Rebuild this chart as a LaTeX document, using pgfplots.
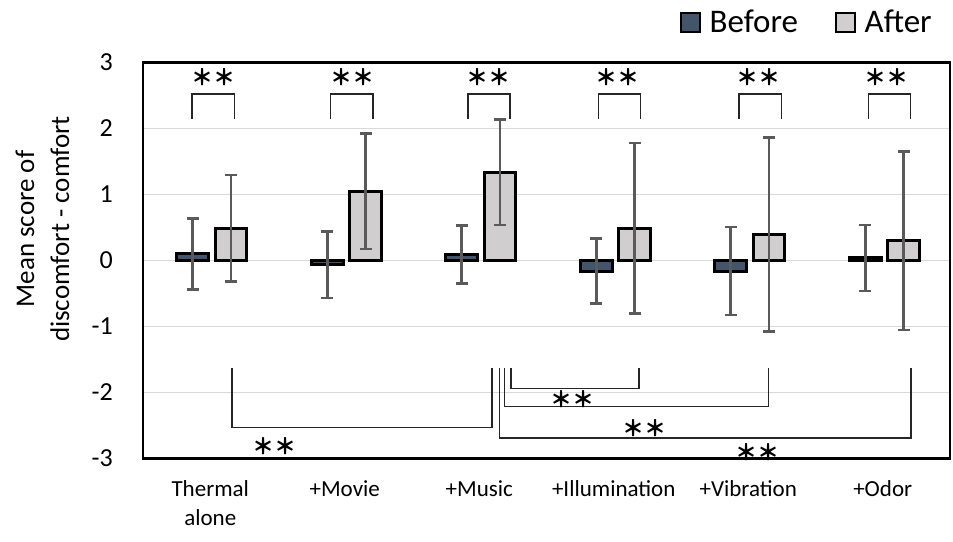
\documentclass[border=0pt]{standalone}
\usepackage{pgfplots}
\pgfplotsset{compat=1.18}
\usepackage{fontspec}
\setmainfont{Carlito}
\newfontfamily\cjk{Noto Sans CJK JP}
\definecolor{beforec}{HTML}{44546A}
\definecolor{afterc}{HTML}{D0CECE}
\definecolor{errc}{HTML}{5A5A5A}
\definecolor{gridc}{HTML}{D9D9D9}
\newcommand{\stars}{{\cjk\bfseries\fontsize{22}{22}\selectfont ＊＊}}
\pgfplotsset{boxlegend/.style={legend image code/.code={\draw[##1, line width=2.2pt] (0pt,-10pt) rectangle (19pt,9pt); \path (25pt,0pt);}}}
\begin{document}
\begin{tikzpicture}
\begin{axis}[
 scale only axis, width=807pt, height=396pt,
 xmin=-0.5, xmax=5.5, ymin=-3, ymax=3,
 xtick={0,1,2,3,4,5},
 xticklabels={{Thermal\\alone},{+Movie},{+Music},{+Illumination},{+Vibration},{+Odor}},
 ytick={-3,-2,-1,0,1,2,3},
 major tick length=0pt,
 ymajorgrids, major grid style={gridc, line width=1.5pt},
 axis line style={black, line width=2.4pt},
 clip=false,
 /pgf/number format/assume math mode=true,
 yticklabel style={font=\fontsize{26}{30}\selectfont, anchor=east, inner sep=0pt, xshift=-30pt},
 xticklabel style={font=\fontsize{23}{29}\selectfont, anchor=north, inner sep=0pt, yshift=-22pt, align=center},
 legend columns=2,
 legend style={at={(axis description cs:0.98,1.102)}, anchor=east, draw=none, fill=none, inner sep=0pt,
   font=\fontsize{33}{38}\selectfont, /tikz/every even column/.append style={column sep=35pt}},
]
\addplot[ybar, bar width=0.235, bar shift=0, fill=beforec, draw=black, line width=3pt,
  boxlegend,
  error bars/.cd, y dir=both, y explicit,
  error bar style={errc, line width=2.6pt},
  error mark options={errc, line width=2.6pt, mark size=6pt, rotate=90}]
 coordinates {
 (-0.13,0.10) +- (0,0.54)
 (0.87,-0.065) +- (0,0.505)
 (1.87,0.09) +- (0,0.44)
 (2.87,-0.16) +- (0,0.49)
 (3.87,-0.16) +- (0,0.665)
 (4.87,0.04) +- (0,0.50)
 };
\addlegendentry{Before}
\addplot[ybar, bar width=0.235, bar shift=0, fill=afterc, draw=black, line width=3pt,
  boxlegend,
  error bars/.cd, y dir=both, y explicit,
  error bar style={errc, line width=2.6pt},
  error mark options={errc, line width=2.6pt, mark size=6pt, rotate=90}]
 coordinates {
 (0.155,0.49) +- (0,0.805)
 (1.155,1.05) +- (0,0.875)
 (2.155,1.34) +- (0,0.80)
 (3.155,0.49) +- (0,1.29)
 (4.155,0.39) +- (0,1.47)
 (5.155,0.30) +- (0,1.35)
 };
\addlegendentry{After}
% top brackets
\draw[black!85, line width=1.4pt] (axis cs:-0.135,2.15) -- (axis cs:-0.135,2.52) -- (axis cs:0.18,2.52) -- (axis cs:0.18,2.15);
\draw[black!85, line width=1.4pt] (axis cs:0.895,2.15) -- (axis cs:0.895,2.52) -- (axis cs:1.21,2.52) -- (axis cs:1.21,2.15);
\draw[black!85, line width=1.4pt] (axis cs:1.915,2.15) -- (axis cs:1.915,2.52) -- (axis cs:2.228,2.52) -- (axis cs:2.228,2.15);
\draw[black!85, line width=1.4pt] (axis cs:2.885,2.15) -- (axis cs:2.885,2.52) -- (axis cs:3.2,2.52) -- (axis cs:3.2,2.15);
\draw[black!85, line width=1.4pt] (axis cs:3.93,2.15) -- (axis cs:3.93,2.52) -- (axis cs:4.245,2.52) -- (axis cs:4.245,2.15);
\draw[black!85, line width=1.4pt] (axis cs:4.895,2.15) -- (axis cs:4.895,2.52) -- (axis cs:5.205,2.52) -- (axis cs:5.205,2.15);
\node at (axis cs:0.022,2.78) {\stars};
\node at (axis cs:1.055,2.78) {\stars};
\node at (axis cs:2.07,2.78) {\stars};
\node at (axis cs:3.03,2.78) {\stars};
\node at (axis cs:4.075,2.78) {\stars};
\node at (axis cs:5.03,2.78) {\stars};
% bottom brackets
\draw[black!85, line width=1.4pt] (axis cs:0.162,-1.63) -- (axis cs:0.162,-2.53) -- (axis cs:2.095,-2.53) -- (axis cs:2.095,-1.63);
\draw[black!85, line width=1.4pt] (axis cs:2.236,-1.63) -- (axis cs:2.236,-1.94) -- (axis cs:3.188,-1.94) -- (axis cs:3.188,-1.63);
\draw[black!85, line width=1.4pt] (axis cs:2.186,-1.63) -- (axis cs:2.186,-2.21) -- (axis cs:4.151,-2.21) -- (axis cs:4.151,-1.63);
\draw[black!85, line width=1.4pt] (axis cs:2.152,-1.63) -- (axis cs:2.152,-2.69) -- (axis cs:5.21,-2.69) -- (axis cs:5.21,-1.63);
\node at (axis cs:0.481,-2.82) {\stars};
\node at (axis cs:2.694,-2.10) {\stars};
\node at (axis cs:3.232,-2.54) {\stars};
\node at (axis cs:4.072,-2.91) {\stars};
% y label
\node[rotate=90, align=center, font=\fontsize{27}{35}\selectfont] at (axis description cs:-0.1245,0.5795) {Mean score of\\discomfort - comfort};
\end{axis}
\pgfresetboundingbox
\path (-143pt,-82.5pt) rectangle (810pt,458.5pt);
\end{tikzpicture}
\end{document}
